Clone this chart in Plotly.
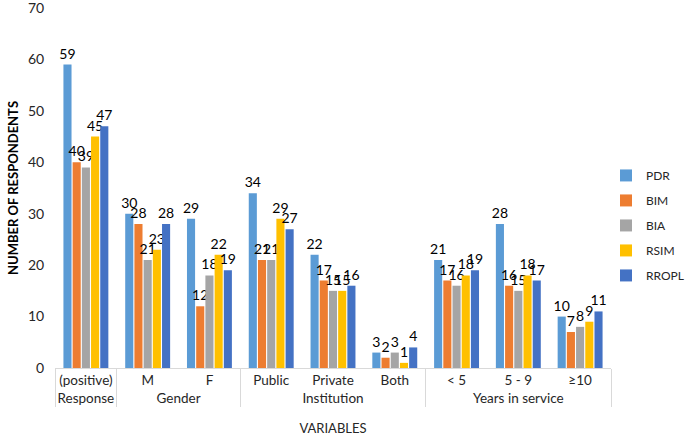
import plotly.graph_objects as go

groups = ["Response", "Gender", "Gender", "Institution", "Institution", "Institution",
          "Years in service", "Years in service", "Years in service"]
categories = ["(positive)", "M", "F", "Public", "Private", "Both", "< 5", "5 - 9", "≥10"]

series_names = ["PDR", "BIM", "BIA", "RSIM", "RROPL"]
PDR = [59, 30, 29, 34, 22, 3, 21, 28, 10]
BIM = [40, 28, 12, 21, 17, 2, 17, 16, 7]
BIA = [39, 21, 18, 21, 15, 3, 16, 15, 8]
RSIM = [45, 23, 22, 29, 15, 1, 18, 18, 9]
RROPL = [47, 28, 19, 27, 16, 4, 19, 17, 11]
values = [PDR, BIM, BIA, RSIM, RROPL]
colors = ["#5B9BD5", "#ED7D31", "#A5A5A5", "#FFC000", "#4472C4"]

FONT = "Lato, Carlito, Calibri, sans-serif"

fig = go.Figure()
for name, vals, col in zip(series_names, values, colors):
    fig.add_trace(go.Bar(
        name=name, x=[groups, categories], y=vals, legendgroup=name,
        marker=dict(color=col, line=dict(width=0)),
        text=[str(v) for v in vals], textposition="outside",
        constraintext="none", cliponaxis=False,
        textfont=dict(family=FONT, size=14, color="#000000"),
    ))

fig.update_layout(
    width=685, height=441,
    margin=dict(l=55, r=74, t=8, b=73, autoexpand=False),
    plot_bgcolor="white", paper_bgcolor="white",
    barmode="group", bargap=0.255, bargroupgap=0.12,
    font=dict(family=FONT, size=13, color="#262626"),
    showlegend=True,
    legend=dict(x=0.991, y=0.396, xanchor="left", yanchor="middle",
                font=dict(family=FONT, size=12, color="#262626"),
                tracegroupgap=6, itemwidth=30, traceorder="grouped",
                borderwidth=0, bgcolor="rgba(0,0,0,0)"),
    xaxis=dict(
        type="multicategory", tickangle=0, automargin=False,
        showline=True, linecolor="#D9D9D9", linewidth=1,
        showgrid=False, ticks="",
        showdividers=True, dividercolor="#D9D9D9", dividerwidth=1,
        tickfont=dict(family=FONT, size=13.5, color="#262626"),
        title=dict(text="VARIABLES", font=dict(family=FONT, size=13, color="#262626"), standoff=18),
    ),
    yaxis=dict(
        range=[0, 70], dtick=10, showgrid=False, zeroline=False, showline=False,
        automargin=False, ticklabeloverflow="allow",
        ticks="outside", ticklen=7, tickcolor="rgba(0,0,0,0)",
        tickfont=dict(family=FONT, size=14, color="#262626"),
        title=dict(text="<b>NUMBER OF RESPONDENTS</b>",
                   font=dict(family=FONT, size=13, color="#000000"), standoff=6),
    ),
)

fig.write_html("out.html", config={"displayModeBar": False},
               post_script="document.body.style.margin='0';")
